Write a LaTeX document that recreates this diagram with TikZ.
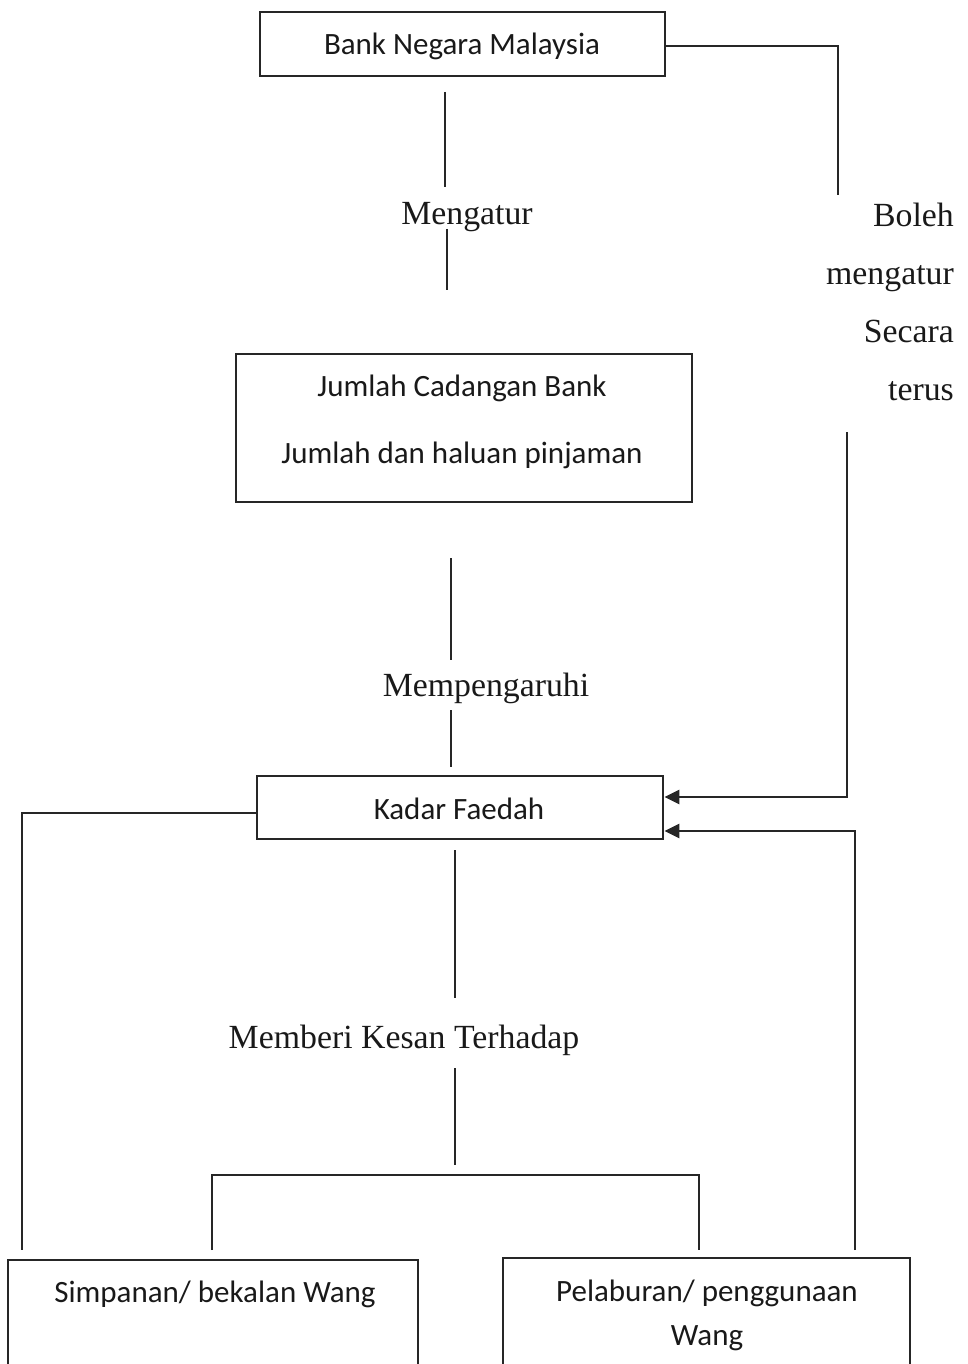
\documentclass[tikz,border=0pt]{standalone}
\usepackage{fontspec}
\setmainfont{Liberation Serif}
\newfontfamily\boxfont{Carlito}
\usetikzlibrary{arrows.meta}
\tikzset{
  box/.style={draw=black!85, line width=2.8pt, inner sep=0pt},
  boxtext/.style={font=\boxfont\fontsize{31}{44}\selectfont, inner sep=0pt, align=center, text=black!90},
  lbl/.style={font=\fontsize{33.8}{58}\selectfont, inner sep=0pt, text=black!90},
  conn/.style={draw=black!85, line width=2.4pt},
  arr/.style={conn, -{Triangle[length=15pt,width=14pt]}}
}
\begin{document}
\begin{tikzpicture}[x=1pt,y=-1pt]
\useasboundingbox (0,0) rectangle (968,1364);
\clip (0,0) rectangle (968,1364);
% boxes
\node[box, minimum width=405pt, minimum height=64pt] (bnm) at (462.5,44) {};
\node[boxtext] (bnmt) at (462,46) {Bank Negara Malaysia};
\node[box, minimum width=456pt, minimum height=148pt] (jcb) at (464,428) {};
\node[boxtext] (jcb1) at (462,388) {Jumlah Cadangan Bank};
\node[boxtext] (jcb2) at (462,455) {Jumlah dan haluan pinjaman};
\node[box, minimum width=406pt, minimum height=63pt] (kf) at (460,807.5) {};
\node[boxtext] (kft) at (459,809) {Kadar Faedah};
\node[box, minimum width=410pt, minimum height=200pt] (sim) at (213,1360) {};
\node[boxtext] (simt) at (215,1294) {Simpanan/ bekalan Wang};
\node[box, minimum width=407pt, minimum height=200pt] (pel) at (706.5,1358) {};
\node[boxtext] (pelt) at (707,1315) {Pelaburan/ penggunaan\\[0pt]Wang};
% labels
\node[lbl] (meng) at (467,217) {Mengatur};
\node[lbl] (memp) at (486,688) {Mempengaruhi};
\node[lbl] (memb) at (404,1040) {Memberi Kesan Terhadap};
\node[lbl, align=right, anchor=east] (bol) at (954,302) {Boleh\\mengatur\\Secara\\terus};
% coordinates
\coordinate (m1) at (445,92);
\coordinate (m2) at (445,187);
\coordinate (m3) at (447,229);
\coordinate (m4) at (447,290);
\coordinate (p1) at (451,558);
\coordinate (p2) at (451,660);
\coordinate (p3) at (451,710);
\coordinate (p4) at (451,767);
\coordinate (r1) at (838,46);
\coordinate (r2) at (838,195);
\coordinate (r3) at (847,432);
\coordinate (r4) at (847,797);
\coordinate (q1) at (855,1250);
\coordinate (q2) at (855,831);
\coordinate (l1) at (22,813);
\coordinate (l2) at (22,1250);
\coordinate (c1) at (455,850);
\coordinate (c2) at (455,998);
\coordinate (c3) at (455,1068);
\coordinate (c4) at (455,1165);
\coordinate (h1) at (212,1175);
\coordinate (h2) at (699,1175);
\coordinate (h3) at (212,1250);
\coordinate (h4) at (699,1250);
% connectors
\draw[conn] (m1) -- (m2);
\draw[conn] (m3) -- (m4);
\draw[conn] (p1) -- (p2);
\draw[conn] (p3) -- (p4);
\draw[conn] (bnm.east |- r1) -- (r1) -- (r2);
\draw[arr] (r3) -- (r4) -- (kf.east |- r4);
\draw[arr] (q1) -- (q2) -- (kf.east |- q2);
\draw[conn] (kf.west |- l1) -- (l1) -- (l2);
\draw[conn] (c1) -- (c2);
\draw[conn] (c3) -- (c4);
\draw[conn] (h3) -- (h1) -- (h2) -- (h4);
\end{tikzpicture}
\end{document}
